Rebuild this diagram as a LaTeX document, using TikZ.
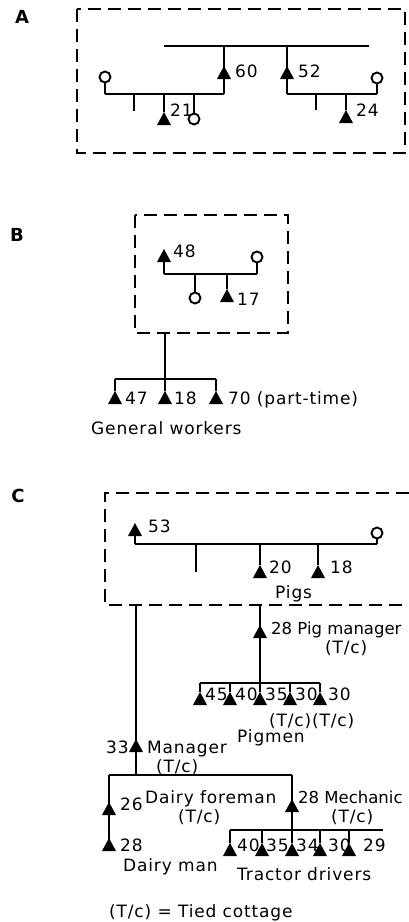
\documentclass[tikz,border=0pt]{standalone}
\usepackage{fontspec}
\setmainfont{DejaVu Sans}[LetterSpace=5]
\begin{document}
\begin{tikzpicture}[x=1pt,y=-1pt,
  ln/.style={line width=2.2pt},
  tri/.style={rectangle, inner sep=0pt, outer sep=0pt, minimum width=14pt, minimum height=13pt,
    path picture={\fill[black] (path picture bounding box.south west) -- (path picture bounding box.south east) -- (path picture bounding box.north) -- cycle;}},
  ring/.style={circle, draw=black, fill=white, line width=1.9pt, minimum size=11pt, inner sep=0pt},
  box/.style={line width=2pt, dash pattern=on 13pt off 7pt},
  lbl/.style={anchor=base west, inner sep=0pt, font=\fontsize{17}{19}\selectfont},
  tight/.style={font=\fontsize{16.5}{19}\selectfont\addfontfeature{LetterSpace=0}},
  sec/.style={anchor=center, inner sep=0pt, font=\fontsize{18}{19}\selectfont\bfseries}
]
\useasboundingbox (0,0) rectangle (409,922);
% ---------------- A ----------------
\node[sec] (labA) at (22,17) {A};
\draw[box] (77,9) rectangle (405,153);
\coordinate (a1) at (164,46); \coordinate (a2) at (369,46);
\coordinate (a60t) at (224,46); \coordinate (a60b) at (224,94);
\coordinate (a52t) at (287,46); \coordinate (a52b) at (287,94);
\coordinate (aL) at (105,94); \coordinate (aTick) at (134,94); \coordinate (aTickE) at (134,111);
\coordinate (a21j) at (164,94); \coordinate (ac2j) at (194,94);
\coordinate (aR) at (377,94); \coordinate (aTick2) at (316,94); \coordinate (aTick2E) at (316,110);
\coordinate (a24j) at (346,94);
\draw[ln] (a1) -- (a2);
\draw[ln] (a60t) -- (a60b);
\draw[ln] (a52t) -- (a52b);
\draw[ln] (aL) -- (a60b);
\draw[ln] (a52b) -- (aR);
\draw[ln] (aTick) -- (aTickE);
\draw[ln] (aTick2) -- (aTick2E);
\node[tri] (t60) at (224,72.5) {};
\node[tri] (t52) at (287,72.5) {};
\node[tri] (t21) at (164,118.5) {};
\node[tri] (t24) at (346,116.5) {};
\node[ring] (c1) at (105,77) {};
\node[ring] (c2) at (194,119) {};
\node[ring] (c3) at (377,78) {};
\draw[ln] (c1) -- (aL);
\draw[ln] (c3) -- (aR);
\draw[ln] (a21j) -- (t21);
\draw[ln] (ac2j) -- (c2);
\draw[ln] (a24j) -- (t24);
\node[lbl] (l60) at (235,77) {60};
\node[lbl] (l52) at (298,77) {52};
\node[lbl] (l21) at (170,116) {21};
\node[lbl] (l24) at (356,116) {24};
% ---------------- B ----------------
\node[sec] (labB) at (17,235) {B};
\draw[box] (135,215) rectangle (288,333);
\coordinate (bL) at (164,274); \coordinate (bR) at (257,274);
\coordinate (bc5j) at (195,274); \coordinate (b17j) at (227,274);
\coordinate (bOut) at (165,333); \coordinate (bJ) at (165,379);
\coordinate (bBL) at (115,379); \coordinate (bBR) at (216,379);
\draw[ln] (bL) -- (bR);
\node[tri] (t48) at (164,255.5) {};
\node[ring] (c4) at (257,257) {};
\node[ring] (c5) at (195,298) {};
\node[tri] (t17) at (227,295.5) {};
\draw[ln] (t48) -- (bL);
\draw[ln] (c4) -- (bR);
\draw[ln] (bc5j) -- (c5);
\draw[ln] (b17j) -- (t17);
\node[lbl] (l48) at (173,257) {48};
\node[lbl] (l17) at (237,305) {17};
\draw[ln] (bOut) -- (bJ);
\draw[ln] (bBL) -- (bBR);
\node[tri] (t47) at (115,397.5) {};
\node[tri] (t18b) at (165,397.5) {};
\node[tri] (t70) at (216,397.5) {};
\draw[ln] (bBL) -- (t47);
\draw[ln] (bJ) -- (t18b);
\draw[ln] (bBR) -- (t70);
\node[lbl] (l47) at (125,404) {47};
\node[lbl] (l18b) at (174,404) {18};
\node[lbl] (l70) at (228,404) {70 (part-time)};
\node[lbl] (lgw) at (91,434) {General workers};
% ---------------- C ----------------
\node[sec] (labC) at (18,496) {C};
\draw[box] (409,493) -- (105,493) -- (105,605) -- (409,605);
\coordinate (cL) at (135,544); \coordinate (cR) at (377,544);
\coordinate (cTick) at (196,544); \coordinate (cTickE) at (196,572);
\coordinate (c20j) at (260,544); \coordinate (c18j) at (318,544);
\draw[ln] (cL) -- (cR);
\draw[ln] (cTick) -- (cTickE);
\node[tri] (t53) at (135,529.5) {};
\node[ring] (c6) at (377,533) {};
\node[tri] (t20) at (260,571.5) {};
\node[tri] (t18c) at (318,571.5) {};
\draw[ln] (t53) -- (cL);
\draw[ln] (c6) -- (cR);
\draw[ln] (c20j) -- (t20);
\draw[ln] (c18j) -- (t18c);
\node[lbl] (l53) at (148,532) {53};
\node[lbl] (l20) at (269,573) {20};
\node[lbl] (l18c) at (330,573) {18};
\node[lbl] (lpigs) at (275,598) {Pigs};
% pig manager
\coordinate (pmTop) at (260,605); \coordinate (pmJ) at (260,683);
\coordinate (pgL) at (200,683); \coordinate (pgR) at (320,683);
\coordinate (pg2) at (230,683); \coordinate (pg4) at (290,683);
\draw[ln] (pmTop) -- (pmJ);
\node[tri] (tPM) at (260,631.5) {};
\node[lbl, tight] (lpm) at (271,634) {28 Pig manager};
\node[lbl] (lpmtc) at (325,653) {(T/c)};
\draw[ln] (pgL) -- (pgR);
\node[tri] (tp45) at (200,698.5) {};
\node[tri] (tp40) at (230,698.5) {};
\node[tri] (tp35) at (260,698.5) {};
\node[tri] (tp30a) at (290,698.5) {};
\node[tri] (tp30b) at (320,698.5) {};
\draw[ln] (pgL) -- (tp45);
\draw[ln] (pg2) -- (tp40);
\draw[ln] (pmJ) -- (tp35);
\draw[ln] (pg4) -- (tp30a);
\draw[ln] (pgR) -- (tp30b);
\node[lbl] (l45) at (205,700) {45};
\node[lbl] (l40) at (235,700) {40};
\node[lbl] (l35) at (265,700) {35};
\node[lbl] (l30a) at (295,700) {30};
\node[lbl] (l30b) at (328,700) {30};
\node[lbl] (lpgtc) at (269,726) {(T/c)(T/c)};
\node[lbl] (lpigmen) at (237,742) {Pigmen};
% manager
\coordinate (mTop) at (136,605); \coordinate (mJ) at (136,775);
\coordinate (dL) at (109,775); \coordinate (dR) at (292,775);
\draw[ln] (mTop) -- (mJ);
\node[tri] (tMgr) at (136,745.5) {};
\node[lbl] (l33) at (106,753) {33};
\node[lbl] (lmgr) at (147,753) {Manager};
\node[lbl] (lmgrtc) at (156,772) {(T/c)};
\draw[ln] (dL) -- (dR);
% dairy
\node[tri] (t26) at (109,808.5) {};
\node[tri] (t28d) at (109,844.5) {};
\draw[ln] (dL) -- (t28d.center);
\node[lbl] (l26) at (120,810) {26};
\node[lbl] (l28d) at (120,851) {28};
\node[lbl] (ldm) at (123,871) {Dairy man};
\node[lbl] (ldf) at (145,803) {Dairy foreman};
\node[lbl] (ldftc) at (178,822) {(T/c)};
% mechanic & tractor drivers
\coordinate (tdJ) at (292,830);
\coordinate (tdL) at (230,830); \coordinate (tdR) at (383,830);
\coordinate (td2) at (262,830); \coordinate (td4) at (320,830); \coordinate (td5) at (349,830);
\draw[ln] (dR) -- (tdJ);
\node[tri] (tMech) at (292,805.5) {};
\node[lbl, tight] (lmech) at (298,803) {28 Mechanic};
\node[lbl] (lmechtc) at (331,822) {(T/c)};
\draw[ln] (tdL) -- (tdR);
\node[tri] (tt40) at (230,849.5) {};
\node[tri] (tt35) at (262,849.5) {};
\node[tri] (tt34) at (292,849.5) {};
\node[tri] (tt30) at (320,849.5) {};
\node[tri] (tt29) at (349,849.5) {};
\draw[ln] (tdL) -- (tt40);
\draw[ln] (td2) -- (tt35);
\draw[ln] (tdJ) -- (tt34);
\draw[ln] (td4) -- (tt30);
\draw[ln] (td5) -- (tt29);
\node[lbl] (lt40) at (237,851) {40};
\node[lbl] (lt35) at (266,851) {35};
\node[lbl] (lt34) at (296,851) {34};
\node[lbl] (lt30) at (328,851) {30};
\node[lbl] (lt29) at (363,851) {29};
\node[lbl] (ltd) at (237,880) {Tractor drivers};
\node[lbl] (lkey) at (109,917) {(T/c) = Tied cottage};
\end{tikzpicture}
\end{document}
